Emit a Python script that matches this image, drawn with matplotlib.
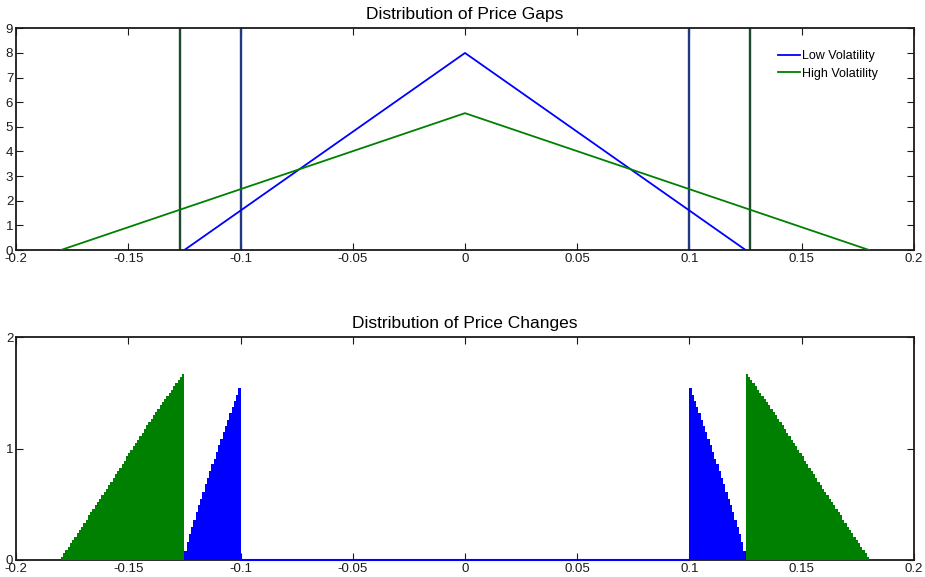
import numpy as np
import matplotlib
matplotlib.use("Agg")
import matplotlib.pyplot as plt

plt.rcParams['font.family'] = ['Liberation Sans', 'DejaVu Sans']

# ---------------- data ----------------
# Top panel: triangular distributions of price gaps
low_gap_x = [-0.125, 0.0, 0.125]
low_gap_y = [0.0, 8.0, 0.0]
high_gap_x = [-0.18, 0.0, 0.18]
high_gap_y = [0.0, 5.556, 0.0]
low_threshold = 0.1
high_threshold = 0.127

# Bottom panel: histogram of price changes (bin width 0.001)
bin_width = 0.001
low_bins_left = [-0.1245, -0.1235, -0.1225, -0.1215, -0.1205, -0.1195, -0.1185,
                 -0.1175, -0.1165, -0.1155, -0.1145, -0.1135, -0.1125, -0.1115,
                 -0.1105, -0.1095, -0.1085, -0.1075, -0.1065, -0.1055, -0.1045,
                 -0.1035, -0.1025, -0.1015, -0.1005]
low_heights_left = [0.08, 0.16, 0.23, 0.30, 0.36, 0.43, 0.49, 0.55, 0.61, 0.68,
                    0.74, 0.80, 0.86, 0.91, 0.97, 1.03, 1.09, 1.15, 1.20, 1.26,
                    1.32, 1.37, 1.43, 1.48, 1.54]
high_bins_left = [-0.1795, -0.1785, -0.1775, -0.1765, -0.1755, -0.1745, -0.1735,
                  -0.1725, -0.1715, -0.1705, -0.1695, -0.1685, -0.1675, -0.1665,
                  -0.1655, -0.1645, -0.1635, -0.1625, -0.1615, -0.1605, -0.1595,
                  -0.1585, -0.1575, -0.1565, -0.1555, -0.1545, -0.1535, -0.1525,
                  -0.1515, -0.1505, -0.1495, -0.1485, -0.1475, -0.1465, -0.1455,
                  -0.1445, -0.1435, -0.1425, -0.1415, -0.1405, -0.1395, -0.1385,
                  -0.1375, -0.1365, -0.1355, -0.1345, -0.1335, -0.1325, -0.1315,
                  -0.1305, -0.1295, -0.1285, -0.1275, -0.1265, -0.1255]
high_heights_left = [0.03, 0.06, 0.09, 0.12, 0.15, 0.18, 0.21, 0.24, 0.27, 0.30,
                     0.33, 0.36, 0.40, 0.43, 0.46, 0.49, 0.52, 0.55, 0.58, 0.61,
                     0.64, 0.67, 0.70, 0.74, 0.77, 0.80, 0.83, 0.86, 0.89, 0.93,
                     0.96, 0.99, 1.02, 1.05, 1.08, 1.11, 1.14, 1.18, 1.21, 1.24,
                     1.27, 1.30, 1.33, 1.36, 1.39, 1.42, 1.45, 1.47, 1.50, 1.53,
                     1.56, 1.59, 1.62, 1.64, 1.67]

xticks = [-0.2, -0.15, -0.1, -0.05, 0, 0.05, 0.1, 0.15, 0.2]
xticklabels = ['-0.2', '-0.15', '-0.1', '-0.05', '0', '0.05', '0.1', '0.15', '0.2']
top_yticks = [0, 1, 2, 3, 4, 5, 6, 7, 8, 9]
bottom_yticks = [0, 1, 2]

BLUE = '#0000ff'
GREEN = '#008000'
VBLUE = '#1f3a80'
VGREEN = '#1b4a2e'
SPINE = '#1a1a1a'

fig = plt.figure(figsize=(9.25, 5.77), dpi=100)
ax1 = fig.add_axes([0.0173, 0.5667, 0.9708, 0.3842])
ax2 = fig.add_axes([0.0173, 0.0295, 0.9708, 0.3860])


def style(ax):
    for s in ax.spines.values():
        s.set_linewidth(1.3)
        s.set_color(SPINE)
    ax.tick_params(direction='in', length=5, width=0.8, top=True, right=True,
                   labelsize=9.5, colors=SPINE, pad=2)
    ax.set_xlim(-0.2, 0.2)
    ax.set_xticks(xticks)
    ax.set_xticklabels(xticklabels)


# ---- top ----
style(ax1)
ax1.plot(low_gap_x, low_gap_y, color=BLUE, lw=1.3, label='Low Volatility', zorder=3)
ax1.plot(high_gap_x, high_gap_y, color=GREEN, lw=1.3, label='High Volatility', zorder=3)
for t in (-low_threshold, low_threshold):
    ax1.axvline(t, color=VBLUE, lw=1.7, zorder=2)
for t in (-high_threshold, high_threshold):
    ax1.axvline(t, color=VGREEN, lw=1.7, zorder=2)
ax1.set_ylim(0, 9)
ax1.set_yticks(top_yticks)
ax1.set_title('Distribution of Price Gaps', fontsize=12.5, pad=7)
leg = ax1.legend(loc='upper left', bbox_to_anchor=((778 - 16) / 898, 0.902),
                 frameon=False, fontsize=9, handlelength=1.75, handletextpad=0.15,
                 borderpad=0, borderaxespad=0, labelspacing=0.45)

# ---- bottom ----
style(ax2)
low_bins_right = [-x for x in low_bins_left]
high_bins_right = [-x for x in high_bins_left]
ax2.bar(high_bins_left + high_bins_right, high_heights_left + high_heights_left,
        width=bin_width, color=GREEN, linewidth=0, zorder=3)
ax2.bar(low_bins_left + low_bins_right, low_heights_left + low_heights_left,
        width=bin_width, color=BLUE, linewidth=0, zorder=3)
ax2.plot([-low_threshold, low_threshold], [0, 0], color=BLUE, lw=1.5,
         zorder=4, clip_on=False)
ax2.set_ylim(0, 2)
ax2.set_yticks(bottom_yticks)
ax2.set_title('Distribution of Price Changes', fontsize=12.5, pad=7)

fig.savefig('out.png', dpi=100)
